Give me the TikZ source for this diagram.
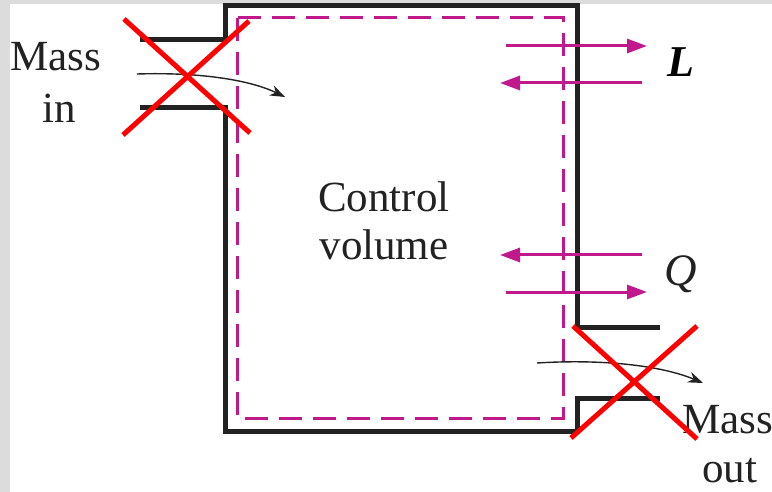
\documentclass[tikz,border=0pt]{standalone}
\usepackage{fontspec}
\setmainfont{Liberation Serif}
\usetikzlibrary{arrows.meta}
\definecolor{wall}{HTML}{222222}
\definecolor{mag}{HTML}{C0198C}
\definecolor{bggray}{HTML}{DCDCDC}
\tikzset{
  wallline/.style={draw=wall,line width=5pt,line join=miter,line cap=butt},
  cvline/.style={draw=mag,line width=3pt,dash pattern=on 23pt off 11pt},
  workarrow/.style={draw=mag,line width=3pt,-{Triangle[length=20pt,width=14pt]}},
  flowarrow/.style={draw=wall,line width=1.4pt,-{Stealth[length=15pt,width=11pt]}},
  crossline/.style={draw=red,line width=5pt},
  lbl/.style={font=\fontsize{43}{48}\selectfont,text=wall,inner sep=0pt,anchor=base}
}
\begin{document}
\begin{tikzpicture}[x=1pt,y=-1pt]
\useasboundingbox (0,0) rectangle (772,492);
\fill[white] (0,0) rectangle (772,492);
\fill[bggray] (0,0) rectangle (772,4);
\fill[bggray] (0,0) rectangle (10,492);
% walls
\draw[wallline] (140,40) -- (225,40) -- (225,6) -- (577,6) -- (577,327) -- (660,327);
\draw[wallline] (660,398) -- (577,398) -- (577,431) -- (225,431) -- (225,108) -- (140,108);
% control volume
\draw[cvline] (237,18) rectangle (563,418);
% work arrows
\coordinate (l1a) at (506,46); \coordinate (l1b) at (647,46);
\coordinate (l2a) at (642,83); \coordinate (l2b) at (500,83);
\coordinate (q1a) at (642,255); \coordinate (q1b) at (500,255);
\coordinate (q2a) at (506,292); \coordinate (q2b) at (647,292);
\draw[workarrow] (l1a) -- (l1b);
\draw[workarrow] (l2a) -- (l2b);
\draw[workarrow] (q1a) -- (q1b);
\draw[workarrow] (q2a) -- (q2b);
% flow arrows
\coordinate (fi1) at (137,74); \coordinate (fi2) at (285,97);
\coordinate (fo1) at (537,363); \coordinate (fo2) at (703,383);
\draw[flowarrow] (fi1) .. controls (200,72) and (250,80) .. (fi2);
\draw[flowarrow] (fo1) .. controls (600,359) and (660,365) .. (fo2);
% labels
\node[lbl] (mass1) at (56,71) {Mass};
\node[lbl] (in) at (59,123) {in};
\node[lbl] (control) at (384,212) {Control};
\node[lbl] (volume) at (384,260) {volume};
\node[lbl,anchor=base west] (massout1) at (682,433) {Mass};
\node[lbl,anchor=base west] (massout2) at (702,482) {out};
\node[lbl,font=\fontsize{44}{48}\selectfont\bfseries\itshape,text=black,anchor=base west] (L) at (667,77) {L};
\node[lbl,font=\fontsize{45}{48}\selectfont\itshape,anchor=base west] (Q) at (664,286) {Q};
% crosses
\draw[crossline] (124,19) -- (250,133);
\draw[crossline] (249,21) -- (123,135);
\draw[crossline] (573,326) -- (697,439);
\draw[crossline] (697,326) -- (571,438);
\end{tikzpicture}
\end{document}
